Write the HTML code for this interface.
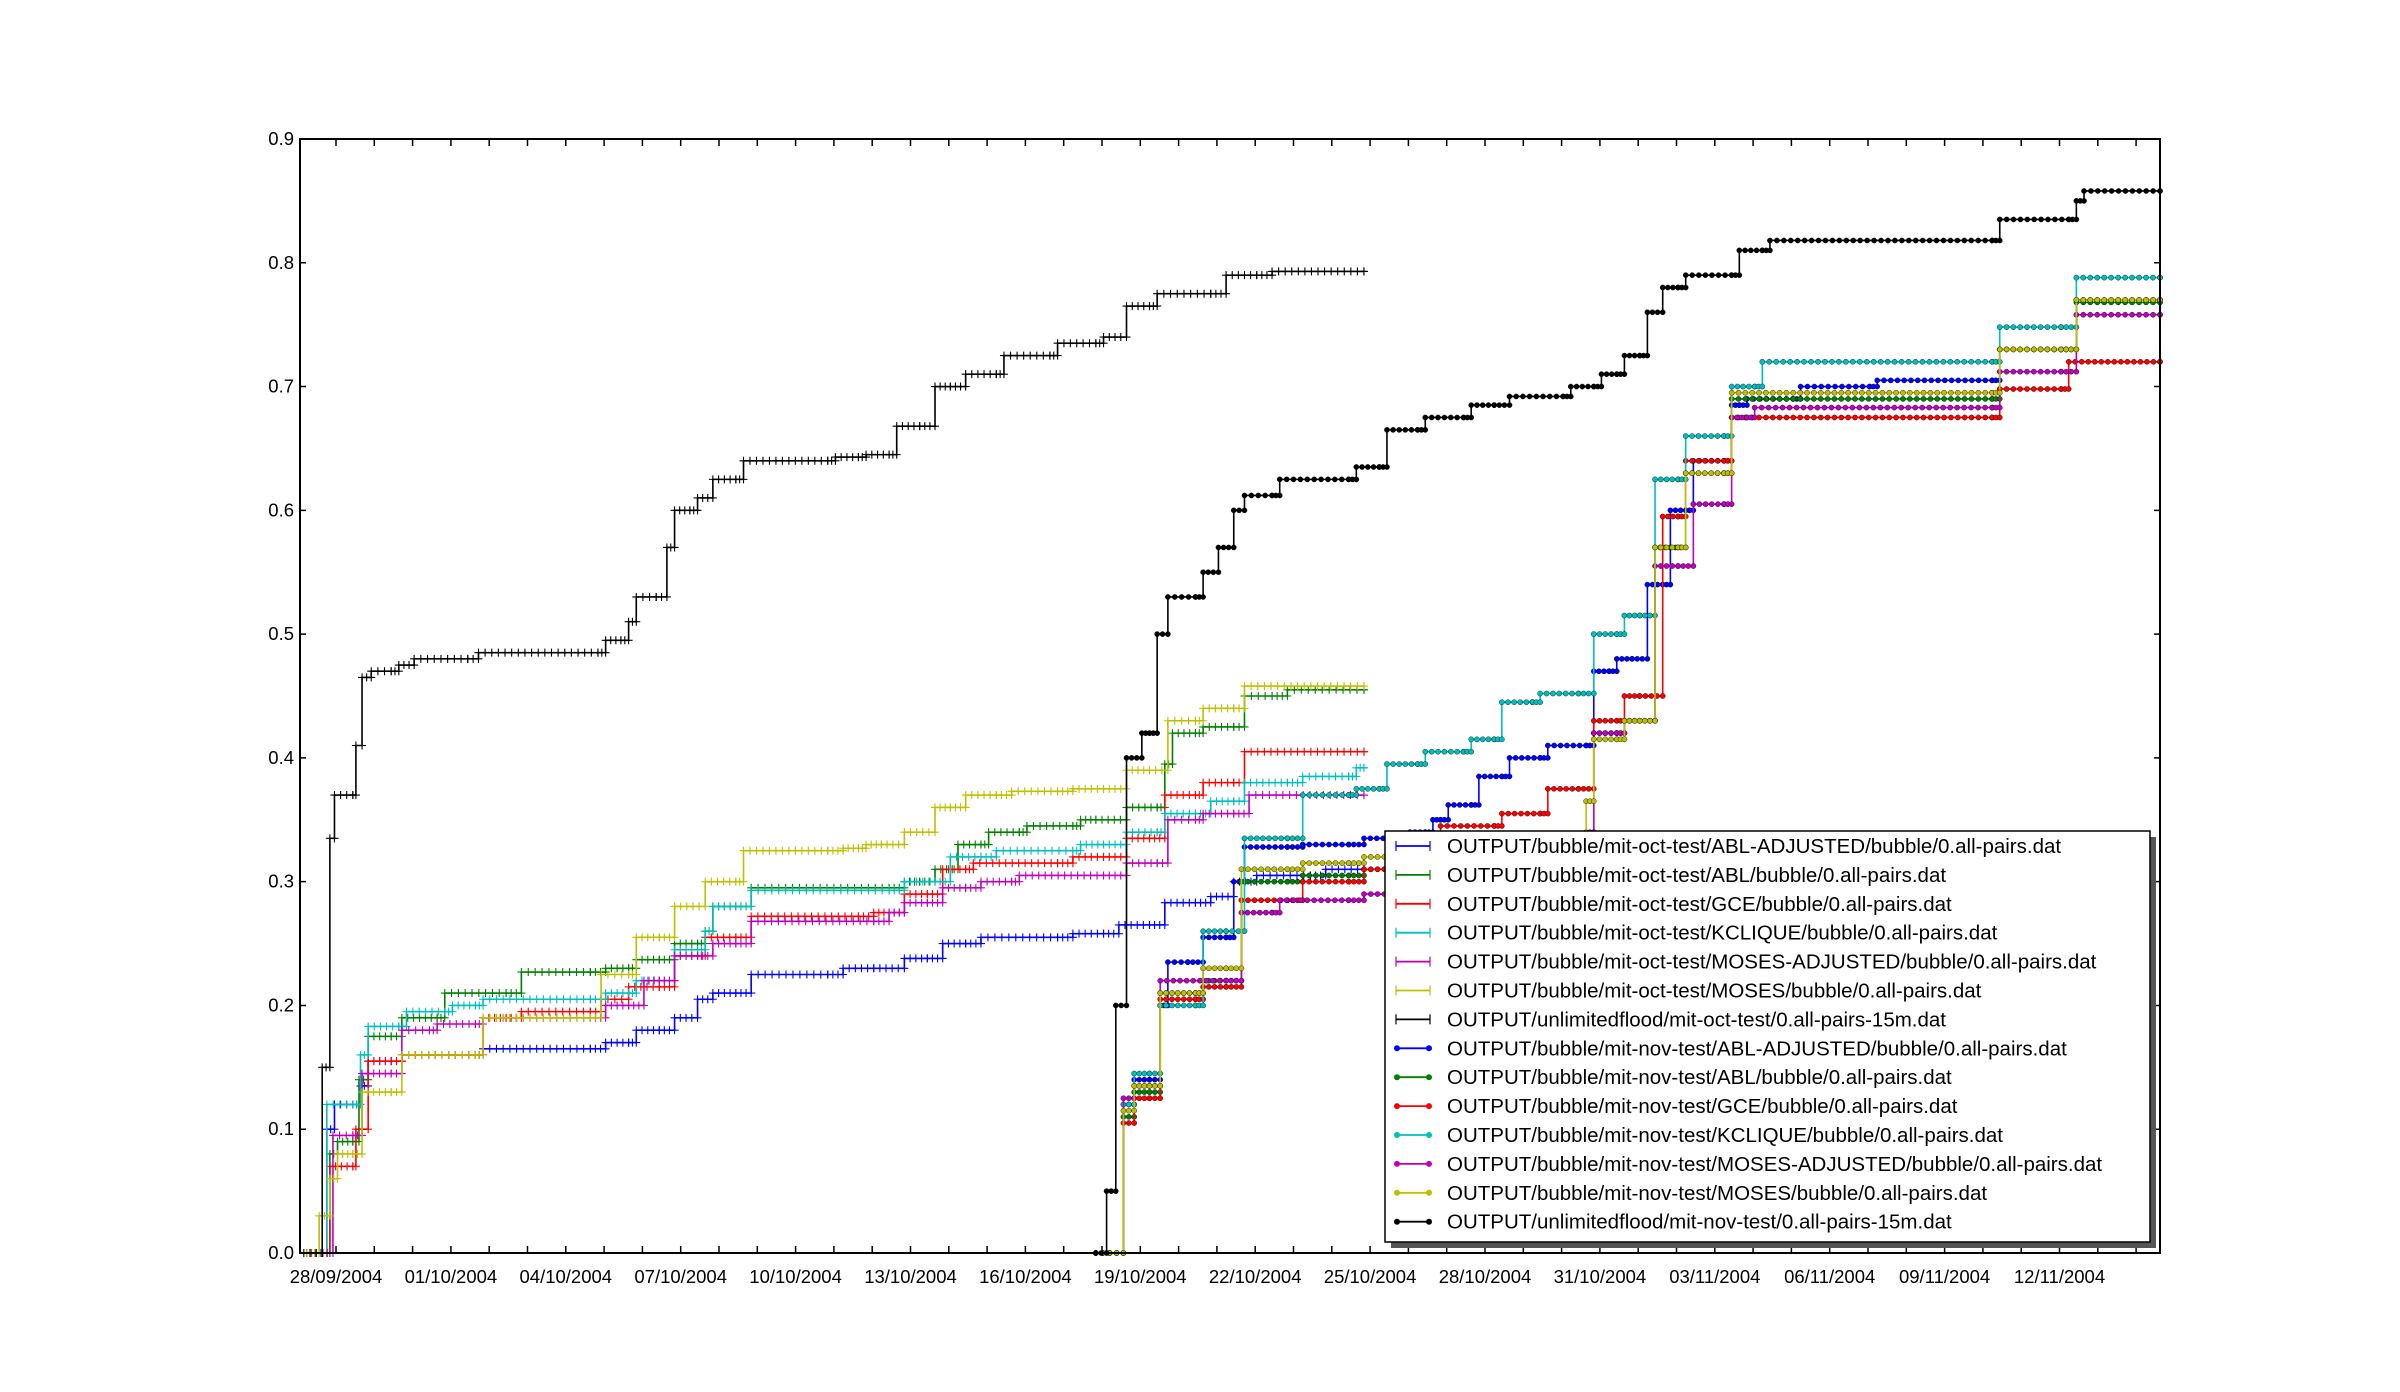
<!DOCTYPE html>
<html><head><meta charset="utf-8"><style>
html,body{margin:0;padding:0;background:#fff;width:2400px;height:1392px;overflow:hidden}
svg text{font-family:"Liberation Sans","DejaVu Sans",sans-serif}
</style></head><body>
<svg id="s" width="2400" height="1392" viewBox="0 0 2400 1392" xmlns="http://www.w3.org/2000/svg">
<rect width="2400" height="1392" fill="#fff"/>
<g id="series"></g>
<rect x="300" y="139" width="1860" height="1114" fill="none" stroke="#000" stroke-width="2"/>
<g id="ticks"></g>
<rect x="1391" y="837" width="765" height="411" fill="#555"/>
<rect x="1385" y="831" width="765" height="411" fill="#fff" stroke="#000" stroke-width="1.5"/>
<g id="legend"></g>
</svg>
<script>
var NS="http://www.w3.org/2000/svg";
var XR=2160;
function X(xd){return 336+(xd-219)*1.532;}
function Y(v){return 1253-v*1237.8;}
function el(t,a,p){var e=document.createElementNS(NS,t);for(var k in a)e.setAttribute(k,a[k]);p.appendChild(e);return e;}
var C={b:"#0000ff",g:"#008000",r:"#ff0000",c:"#00bfbf",m:"#bf00bf",y:"#bfbf00",k:"#000000"};
function expand(list){var o=[];list.forEach(function(p){o.push([p[0],p[1]]);if(p.length>2)o.push([p[2],p[1]]);});return o;}
var oct=[
["b",[[200,0,205],[213,0.10],[218,0.12,230],[235,0.135],[240,0.155,255],[262,0.16,310],[315,0.165,385],[395,0.17,410],[415,0.18,430],[440,0.19],[455,0.205],[465,0.21,480],[490,0.225,540],[550,0.23,570],[590,0.238,605],[615,0.25,630],[640,0.255,690],[700,0.258,720],[730,0.265,750],[760,0.283,780],[790,0.288],[805,0.30],[820,0.305,855],[865,0.31,890]]],
["g",[[200,0,206],[215,0.08],[220,0.09,230],[234,0.14],[240,0.175,255],[262,0.19,285],[290,0.21,330],[340,0.227,385],[395,0.23,410],[415,0.237,430],[440,0.25,455],[460,0.26],[465,0.28,480],[490,0.295,580],[590,0.30,600],[610,0.31],[625,0.33,640],[645,0.34,665],[670,0.345,700],[705,0.35,715],[735,0.36,755],[760,0.395],[765,0.42,780],[785,0.425,805],[812,0.45,830],[840,0.455,890]]],
["r",[[200,0,206],[215,0.07,230],[232,0.10],[240,0.155,255],[262,0.16,310],[315,0.19,330],[340,0.195,385],[392,0.205],[410,0.215,430],[440,0.24,455],[460,0.255,480],[490,0.272,560],[570,0.275,580],[590,0.29,605],[615,0.31,630],[635,0.315,690],[700,0.32,720],[735,0.335,750],[760,0.37,780],[785,0.38,805],[812,0.405,890]]],
["c",[[200,0,205],[213,0.12,230],[235,0.16],[240,0.183,260],[265,0.195,290],[295,0.20,310],[315,0.205,385],[395,0.21,410],[415,0.22,430],[440,0.245,455],[460,0.26],[465,0.28,480],[490,0.293,580],[590,0.30,610],[620,0.32,640],[650,0.325,700],[705,0.33,720],[735,0.34,755],[760,0.355,780],[790,0.365,805],[812,0.38,840],[850,0.385,880],[885,0.392,890]]],
["m",[[200,0,206],[217,0.095,230],[236,0.145,255],[262,0.18,280],[285,0.185,310],[315,0.19,385],[395,0.20,410],[420,0.22,430],[440,0.24,455],[465,0.25,480],[490,0.268,570],[580,0.275],[590,0.283,605],[615,0.295,630],[640,0.30,660],[665,0.305,720],[735,0.315,755],[762,0.35,780],[785,0.355,805],[815,0.37,890]]],
["y",[[200,0,205],[208,0.03],[215,0.06],[220,0.08,230],[236,0.13,255],[262,0.16,310],[315,0.19,385],[392,0.225,410],[415,0.255,430],[440,0.28],[460,0.30,480],[485,0.325,540],[550,0.327,560],[565,0.33,575],[590,0.34],[610,0.36,620],[630,0.37,650],[660,0.373,690],[700,0.375,720],[735,0.39,750],[762,0.43,780],[785,0.44,805],[812,0.458,890]]],
["k",[[198,0,206],[210,0.15],[215,0.335],[218,0.37,230],[232,0.41],[236,0.465],[242,0.47,255],[260,0.475],[270,0.48,305],[312,0.485,390],[395,0.495,405],[410,0.51],[415,0.53,428],[435,0.57],[440,0.60,450],[455,0.61],[465,0.625,480],[485,0.64,540],[545,0.643,560],[565,0.645,580],[585,0.668,600],[610,0.70,620],[630,0.71,650],[655,0.725,685],[690,0.735,715],[720,0.74],[735,0.765,750],[755,0.775,790],[800,0.79,820],[830,0.793,890]]]
];
var nov=[
["b",[[715,0],[733,0.12],[740,0.14,750],[757,0.20],[762,0.235,775],[785,0.255,800],[805,0.30],[812,0.328,840],[850,0.33,880],[890,0.335,915],[920,0.34,930],[935,0.35,940],[945,0.362,960],[965,0.385,980],[985,0.40,1005],[1010,0.41,1035],[1040,0.47,1050],[1055,0.48,1065],[1075,0.54,1085],[1090,0.60,1100],[1105,0.64,1125],[1130,0.685,1135],[1140,0.69,1170],[1175,0.70,1220],[1225,0.705,1300],[1305,0.73,1345],[1355,0.77,1415]]],
["g",[[715,0],[733,0.11],[740,0.13,750],[757,0.21,780],[785,0.22,800],[810,0.30,840],[850,0.305,880],[890,0.31,930],[935,0.32,1030],[1035,0.33],[1040,0.42,1055],[1060,0.43,1070],[1080,0.57,1090],[1100,0.63,1125],[1130,0.69,1300],[1305,0.73,1345],[1355,0.768,1415]]],
["r",[[715,0],[733,0.105],[740,0.125,750],[757,0.205,780],[785,0.215,800],[810,0.285,840],[850,0.30,880],[890,0.31,930],[940,0.345,975],[980,0.355,1005],[1010,0.375,1030],[1040,0.43,1055],[1060,0.45,1070],[1085,0.595,1095],[1100,0.64,1125],[1130,0.675,1300],[1305,0.698,1345],[1350,0.72,1415]]],
["c",[[715,0],[733,0.12],[740,0.145,750],[757,0.20,780],[785,0.26,800],[812,0.335,840],[850,0.37,880],[885,0.375,900],[905,0.395,925],[930,0.405,955],[960,0.415,975],[980,0.445,1000],[1005,0.452,1030],[1040,0.50,1055],[1060,0.515,1070],[1080,0.625,1095],[1100,0.66,1125],[1130,0.70,1145],[1150,0.72,1300],[1305,0.748,1345],[1355,0.788,1415]]],
["m",[[715,0],[733,0.125],[740,0.135,750],[757,0.22,800],[810,0.275,830],[835,0.285,880],[890,0.29,930],[940,0.305,1030],[1035,0.34],[1040,0.42,1055],[1060,0.43,1070],[1080,0.555,1095],[1105,0.605,1125],[1130,0.675,1140],[1145,0.683,1300],[1305,0.712,1345],[1355,0.758,1415]]],
["y",[[715,0],[733,0.115],[740,0.135,750],[757,0.21,780],[785,0.23,800],[810,0.31,840],[850,0.315,880],[890,0.32,930],[935,0.325,1030],[1035,0.365],[1040,0.415,1055],[1060,0.43,1070],[1080,0.57,1095],[1100,0.63,1125],[1130,0.695,1300],[1305,0.73,1345],[1355,0.77,1415]]],
["k",[[715,0],[722,0.05],[728,0.20],[735,0.40],[745,0.42,750],[755,0.50],[762,0.53,780],[785,0.55],[795,0.57],[805,0.60],[812,0.612,830],[835,0.625,880],[885,0.635,900],[905,0.665,925],[930,0.675,955],[960,0.685,975],[985,0.692,1020],[1025,0.70,1040],[1045,0.71,1055],[1060,0.725,1070],[1075,0.76],[1085,0.78,1095],[1100,0.79,1130],[1135,0.81,1150],[1155,0.818,1300],[1305,0.835,1350],[1355,0.85],[1360,0.858,1415]]]
];
var G=document.getElementById("series");
function draw(ser,mk){
 var col=C[ser[0]],pts=expand(ser[1]),d="";
 pts.forEach(function(p,i){var x=Math.min(X(p[0]),XR),y=Y(p[1]);if(i==0)d="M"+x+" "+y;else{d+=" H"+x+" V"+y;}});
 el("path",{d:d,fill:"none",stroke:col,"stroke-width":1.6},G);
 for(var i=0;i<pts.length;i++){
  var x0=Math.min(X(pts[i][0]),XR),y=Y(pts[i][1]);
  var x1=i+1<pts.length?Math.min(X(pts[i+1][0]),XR):x0;
  var n=Math.max(1,Math.ceil((x1-x0)/7)),st=(x1-x0)/n;
  for(var k=0;k<=n;k++){var x=x0+k*st;
   if(mk=="+"){el("path",{d:"M"+(x-4)+" "+y+"H"+(x+4)+"M"+x+" "+(y-4)+"V"+(y+4),stroke:col,"stroke-width":1.1},G);}
   else el("circle",{cx:x,cy:y,r:2.6,fill:col,stroke:"#000","stroke-width":0.4},G);
   if(x1==x0)break;
  }
 }
}
oct.forEach(function(s){draw(s,"+");});
nov.forEach(function(s){draw(s,"o");});
var T=document.getElementById("ticks");
for(var i=0;i<=9;i++){var y=1253-i*123.78;
 el("path",{d:"M300 "+y+"H306M"+XR+" "+y+"H"+(XR-6),stroke:"#000","stroke-width":1.5},T);
 var t=el("text",{x:294,y:y+6,"text-anchor":"end","font-size":18.5},T);t.textContent=(i/10).toFixed(1);}
var labs=["28/09/2004","01/10/2004","04/10/2004","07/10/2004","10/10/2004","13/10/2004","16/10/2004","19/10/2004","22/10/2004","25/10/2004","28/10/2004","31/10/2004","03/11/2004","06/11/2004","09/11/2004","12/11/2004"];
for(var d=0;d<=48;d++){var x=336+d*38.3;if(x>XR-2)break;
 el("path",{d:"M"+x+" 1253V1246M"+x+" 139V146",stroke:"#000","stroke-width":1.5},T);
 if(d%3==0&&labs[d/3]){var t=el("text",{x:x,y:1283,"text-anchor":"middle","font-size":18.5},T);t.textContent=labs[d/3];}}
var L=document.getElementById("legend");
var names=["OUTPUT/bubble/mit-oct-test/ABL-ADJUSTED/bubble/0.all-pairs.dat","OUTPUT/bubble/mit-oct-test/ABL/bubble/0.all-pairs.dat","OUTPUT/bubble/mit-oct-test/GCE/bubble/0.all-pairs.dat","OUTPUT/bubble/mit-oct-test/KCLIQUE/bubble/0.all-pairs.dat","OUTPUT/bubble/mit-oct-test/MOSES-ADJUSTED/bubble/0.all-pairs.dat","OUTPUT/bubble/mit-oct-test/MOSES/bubble/0.all-pairs.dat","OUTPUT/unlimitedflood/mit-oct-test/0.all-pairs-15m.dat","OUTPUT/bubble/mit-nov-test/ABL-ADJUSTED/bubble/0.all-pairs.dat","OUTPUT/bubble/mit-nov-test/ABL/bubble/0.all-pairs.dat","OUTPUT/bubble/mit-nov-test/GCE/bubble/0.all-pairs.dat","OUTPUT/bubble/mit-nov-test/KCLIQUE/bubble/0.all-pairs.dat","OUTPUT/bubble/mit-nov-test/MOSES-ADJUSTED/bubble/0.all-pairs.dat","OUTPUT/bubble/mit-nov-test/MOSES/bubble/0.all-pairs.dat","OUTPUT/unlimitedflood/mit-nov-test/0.all-pairs-15m.dat"];
var cols=["b","g","r","c","m","y","k","b","g","r","c","m","y","k"];
names.forEach(function(n,i){var y=846+i*28.9,c=C[cols[i]];
 el("path",{d:"M1396 "+y+"H1430",stroke:c,"stroke-width":1.8},L);
 if(i<7)el("path",{d:"M1396 "+(y-5)+"V"+(y+5)+"M1430 "+(y-5)+"V"+(y+5),stroke:c,"stroke-width":1.2},L);
 else{el("circle",{cx:1397,cy:y,r:3,fill:c},L);el("circle",{cx:1429,cy:y,r:3,fill:c},L);}
 var t=el("text",{x:1447,y:y+7,"font-size":20.5,fill:"#000"},L);t.textContent=n;});
</script>
</body></html>
